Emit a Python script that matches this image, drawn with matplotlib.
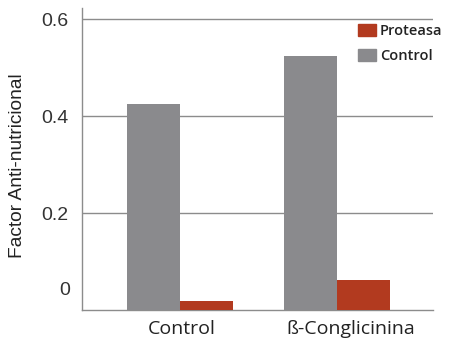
import matplotlib
matplotlib.use("Agg")
import matplotlib.pyplot as plt
from matplotlib.patches import Patch
import numpy as np

categories = ["Control", "ß-Conglicinina"]
control_values = [0.425, 0.525]
proteasa_values = [0.018, 0.062]
ytick_values = [0.2, 0.4, 0.6]
ytick_labels = ["0.2", "0.4", "0.6"]

gray = "#8a8a8d"
red = "#b23a1f"
line_gray = "#8c8c8c"

fig = plt.figure(figsize=(4.5, 3.44), dpi=100)
ax = fig.add_axes([82 / 450, 34 / 344, (433 - 82) / 450, (310 - 8) / 344])

x = np.arange(len(categories))
w = 0.335
ax.bar(x - w / 2, control_values, width=w, color=gray, zorder=3)
ax.bar(x + w / 2, proteasa_values, width=w, color=red, zorder=3)

ax.set_xlim(-0.624, 1.611)
ax.set_ylim(0, 0.623)

for yv in ytick_values:
    ax.axhline(yv, color=line_gray, lw=1.0, zorder=1)

ax.set_yticks(ytick_values)
ax.set_yticklabels(ytick_labels, family="Liberation Sans", fontsize=14, color="#333333")
ax.tick_params(axis="y", length=0, pad=10)
ax.text(-0.035, 0.066, "0", transform=ax.transAxes, ha="right", va="center",
        family="Liberation Sans", fontsize=14, color="#333333")

ax.set_xticks([])
label_pos = [0.013, 1.09]
for xp, lab in zip(label_pos, categories):
    ax.text(xp, -19 / 302, lab, transform=ax.get_xaxis_transform(),
            ha="center", va="center", family="Open Sans",
            fontsize=14, color="#222222")

for s in ["top", "right"]:
    ax.spines[s].set_visible(False)
for s in ["left", "bottom"]:
    ax.spines[s].set_color(line_gray)
    ax.spines[s].set_linewidth(1.0)

fig.text(18 / 450, 1 - 166 / 344, "Factor Anti-nutricional", rotation=90,
         ha="center", va="center", family="Liberation Sans", fontsize=13.8,
         color="#222222")

handles = [Patch(color=red, label="Proteasa"), Patch(color=gray, label="Control")]
leg = ax.legend(handles=handles, loc="upper left", bbox_to_anchor=(0.77, 0.967),
                frameon=False,
                prop={"family": "Open Sans", "size": 10.5, "weight": "semibold"},
                handlelength=1.2, handleheight=0.9, handletextpad=0.3,
                labelspacing=0.75, borderaxespad=0)
for t in leg.get_texts():
    t.set_color("#222222")

fig.savefig("out.png", dpi=100, facecolor="white")
